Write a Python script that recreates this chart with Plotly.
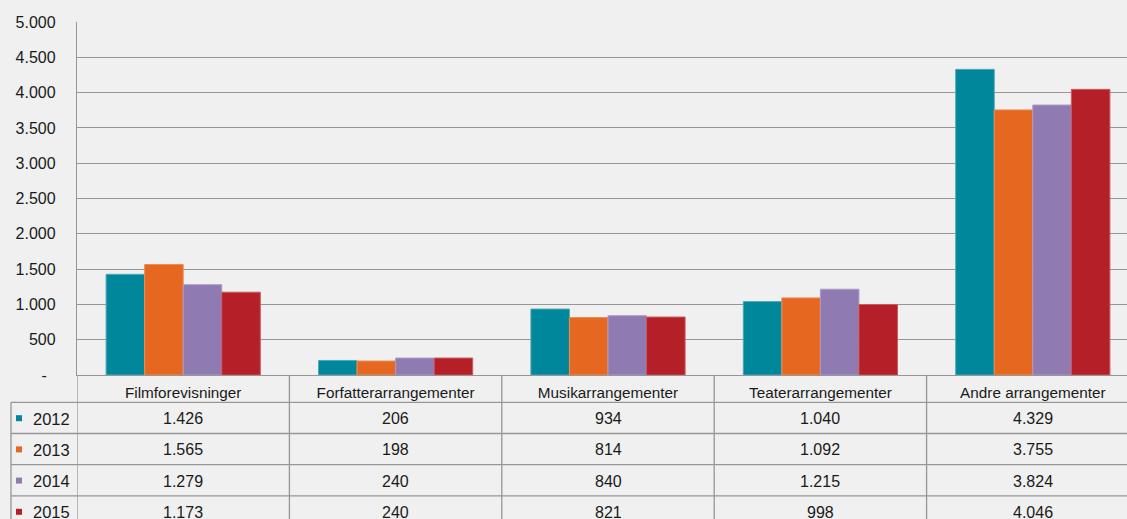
import plotly.graph_objects as go

categories = ["Filmforevisninger", "Forfatterarrangementer", "Musikarrangementer",
              "Teaterarrangementer", "Andre arrangementer"]
years = ["2012", "2013", "2014", "2015"]
v2012 = [1426, 206, 934, 1040, 4329]
v2013 = [1565, 198, 814, 1092, 3755]
v2014 = [1279, 240, 840, 1215, 3824]
v2015 = [1173, 240, 821, 998, 4046]
series = [v2012, v2013, v2014, v2015]
colors = ["#00879B", "#E66820", "#8F7AB2", "#B51F27"]
edge_colors = ["#4FA9B7", "#EE8C55", "#AC9CC8", "#CB5A60"]
y_ticks = list(range(0, 5001, 500))

BG = "#EFF0EF"
GRID = "#969696"
TXT = "#1A1A1A"
FONT = "Liberation Sans, Arial, sans-serif"

W, H = 1127, 519
ML, MT, MB = 77, 22, 144
PLOT_W = W - ML
PLOT_H = H - MT - MB
PLOT_BOTTOM = H - MB


def fmt(v):
    if v == 0:
        return "-\u00a0\u00a0"
    return f"{v:,}".replace(",", ".")


def py(px):
    return (PLOT_BOTTOM - px) / PLOT_H


def pxx(px):
    return (px - ML) / PLOT_W


xs = list(range(len(categories)))
fig = go.Figure()
for yr, vals, c, ec in zip(years, series, colors, edge_colors):
    fig.add_trace(go.Bar(x=xs, y=vals, name=yr, marker=dict(color=c, line=dict(color=ec, width=1)),
                         showlegend=False))

# table geometry (pixels)
HEADER_BOTTOM = 402.3
ROW_H = 31.2
row_lines = [HEADER_BOTTOM + i * ROW_H for i in range(4)]
row_centers = [HEADER_BOTTOM + (i + 0.5) * ROW_H + 0.8 for i in range(4)]
TABLE_LEFT = 11
LW = 1.3

shapes = []
for yl in row_lines:
    shapes.append(dict(type="line", xref="paper", yref="paper", x0=pxx(TABLE_LEFT), x1=1,
                       y0=py(yl), y1=py(yl), line=dict(color=GRID, width=LW)))
shapes.append(dict(type="line", xref="paper", yref="paper", x0=pxx(TABLE_LEFT), x1=pxx(TABLE_LEFT),
                   y0=py(HEADER_BOTTOM), y1=py(H + 5), line=dict(color=GRID, width=LW)))
for i in range(len(categories)):
    shapes.append(dict(type="line", xref="x", yref="paper", x0=i - 0.5, x1=i - 0.5,
                       y0=0, y1=py(H + 5), line=dict(color=GRID, width=LW)))

annotations = []
for r, (yr, vals, c) in enumerate(zip(years, series, colors)):
    yc = row_centers[r]
    shapes.append(dict(type="rect", xref="paper", yref="paper", x0=pxx(16), x1=pxx(22),
                       y0=py(yc - 3.5), y1=py(yc + 2.5), fillcolor=c, line=dict(width=0)))
    annotations.append(dict(xref="paper", yref="paper", x=pxx(31), y=py(yc), text=yr,
                            xanchor="left", yanchor="middle", showarrow=False,
                            font=dict(size=16.5, color=TXT, family=FONT)))
    for i, v in enumerate(vals):
        annotations.append(dict(xref="x", yref="paper", x=i, y=py(yc), text=fmt(v),
                                xanchor="center", yanchor="middle", showarrow=False,
                                font=dict(size=16, color=TXT, family=FONT)))

fig.update_layout(
    width=W, height=H,
    margin=dict(l=ML, r=0, t=MT, b=MB),
    paper_bgcolor=BG, plot_bgcolor=BG,
    barmode="group", bargap=0.274, bargroupgap=0,
    font=dict(family=FONT, color=TXT),
    shapes=shapes, annotations=annotations,
    xaxis=dict(range=[-0.5, 4.4435], tickvals=xs, ticktext=categories, showgrid=False,
               zeroline=False, showline=True, linecolor=GRID, linewidth=LW,
               ticks="", ticklabelstandoff=3, tickfont=dict(size=15.3, color=TXT, family=FONT)),
    yaxis=dict(range=[0, 5000], tickvals=y_ticks, ticktext=[fmt(v) for v in y_ticks],
               showgrid=True, gridcolor=GRID, gridwidth=LW, zeroline=False,
               showline=True, linecolor=GRID, linewidth=LW, ticks="",
               ticklabelstandoff=17, tickfont=dict(size=16, color=TXT, family=FONT)),
)

fig.write_html(
    "out.html",
    config={"displayModeBar": False},
    post_script=("document.documentElement.style.margin='0';document.body.style.margin='0';"
                 "document.body.style.overflow='hidden';document.body.style.background='" + BG + "';"),
)
